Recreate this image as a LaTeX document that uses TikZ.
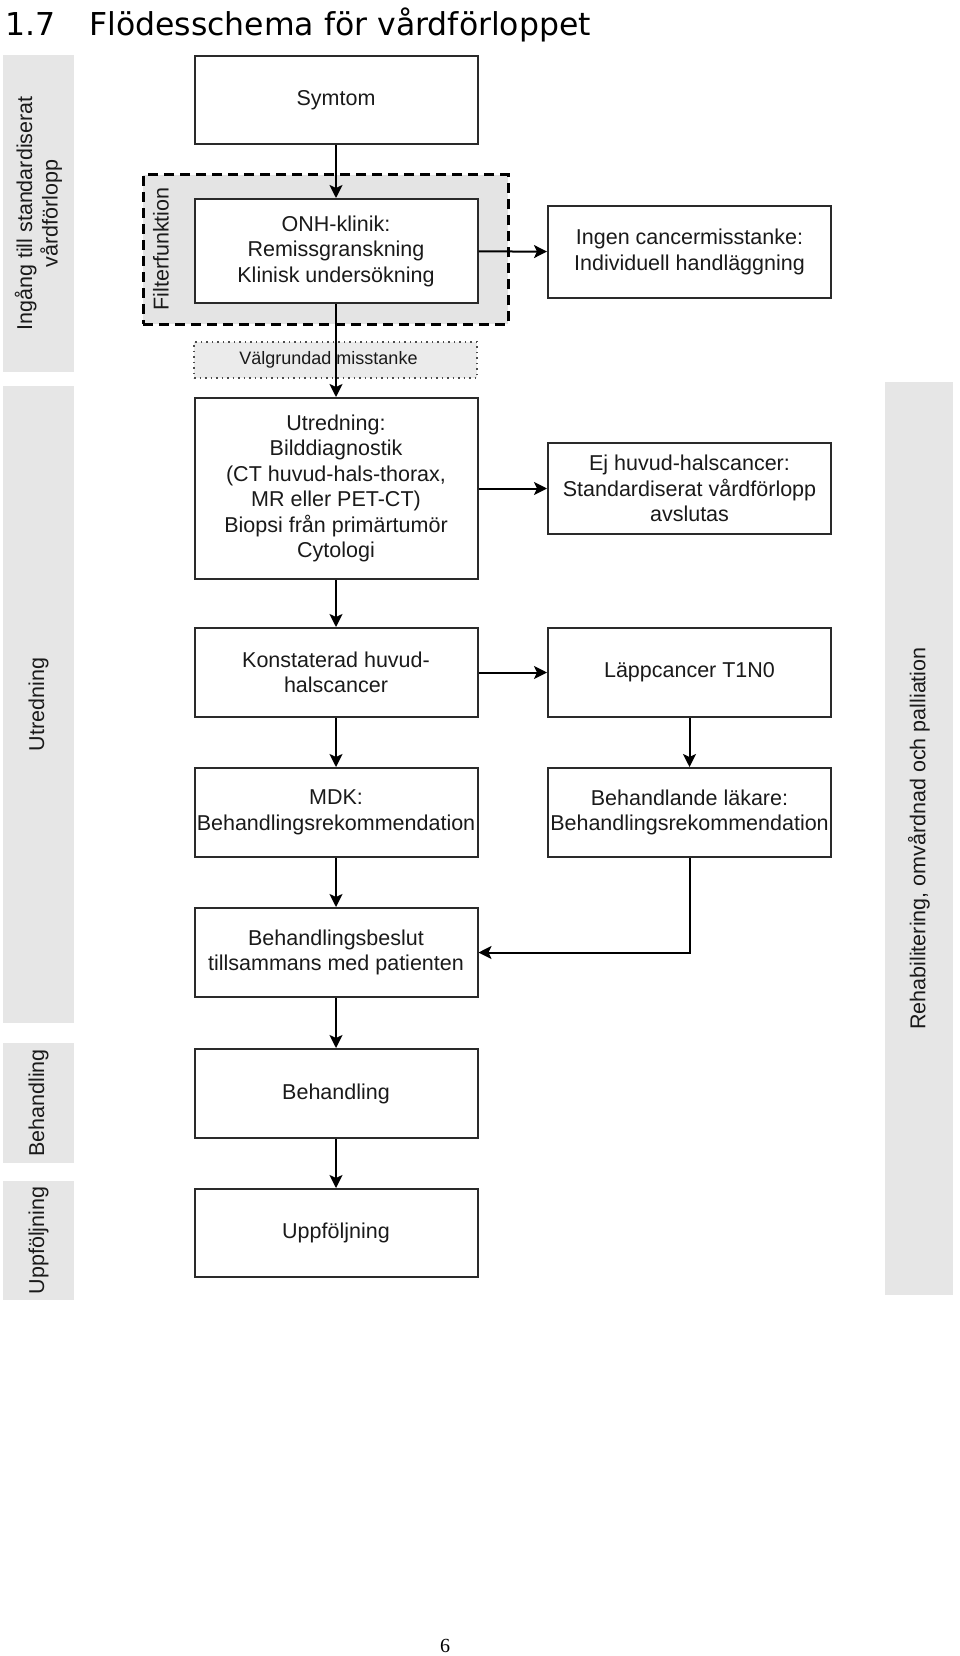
\documentclass[tikz,border=0pt]{standalone}
\usepackage{fontspec}
\setmainfont{Liberation Sans}
\newfontfamily\titlefont{DejaVu Sans}
\newfontfamily\pagefont{Liberation Serif}
\usetikzlibrary{arrows.meta}
\definecolor{lanegray}{HTML}{E6E6E6}
\definecolor{filtergray}{HTML}{E4E4E4}
\definecolor{suspgray}{HTML}{EBEBEB}
\definecolor{boxline}{HTML}{2A2A2A}
\definecolor{txt}{HTML}{1A1A1A}
\begin{document}
\begin{tikzpicture}[x=1pt,y=-1pt,
  boxfont/.style={font=\fontsize{21.5pt}{25.5pt}\selectfont},
  flowbox/.style={boxfont, draw=boxline, line width=2pt, fill=white,
    minimum width=283pt, inner sep=0pt, align=center, text=txt},
  lane/.style={boxfont, fill=lanegray, draw=none, inner sep=0pt,
    rotate=90, align=center, text=txt},
  filterbox/.style={draw=black, fill=filtergray, line width=3pt,
    dash pattern=on 10pt off 6pt, inner sep=0pt},
  suspbox/.style={draw=black!70, fill=suspgray, line width=1.5pt,
    dash pattern=on 1.5pt off 4pt, inner sep=0pt, text=txt,
    font=\fontsize{18pt}{21pt}\selectfont},
  conn/.style={draw=black, line width=2pt,
    -{Stealth[length=13pt,width=13pt,inset=3pt]}}
]
\useasboundingbox (0,0) rectangle (960,1656);

% title and page number
\node[anchor=base west, inner sep=0pt, font=\titlefont\fontsize{31.5pt}{36pt}\selectfont] (num) at (5,36) {1.7};
\node[anchor=base west, inner sep=0pt, font=\titlefont\fontsize{31.5pt}{36pt}\selectfont] (title) at (89,36) {Flödesschema för vårdförloppet};
\node[anchor=base, inner sep=0pt, font=\pagefont\fontsize{20pt}{24pt}\selectfont] (page) at (445,1652) {6};

% lanes
\node[lane, minimum width=317pt, minimum height=71pt] (l1) at (38.5,213.5) {Ingång till standardiserat\\vårdförlopp};
\node[lane, minimum width=637pt, minimum height=71pt] (l2) at (38.5,704.5) {Utredning};
\node[lane, minimum width=120pt, minimum height=71pt] (l3) at (38.5,1103) {Behandling};
\node[lane, minimum width=119pt, minimum height=71pt] (l4) at (38.5,1240.5) {Uppföljning};
\node[lane, minimum width=913pt, minimum height=68pt] (r1) at (919,838.5) {Rehabilitering, omvårdnad och palliation};

% filter function area
\node[filterbox, minimum width=365pt, minimum height=149pt] (filter) at (325.5,249.5) {};
\node[boxfont, rotate=90, inner sep=0pt, text=txt] (filtertext) at (161,249) {Filterfunktion};

% boxes
\node[flowbox, minimum height=88pt] (symtom) at (336,100) {Symtom};
\node[flowbox, minimum height=104pt] (onh) at (336,251) {ONH-klinik:\\Remissgranskning\\Klinisk undersökning};
\node[flowbox, minimum height=92pt] (ingen) at (689.5,252) {Ingen cancermisstanke:\\Individuell handläggning};
\node[suspbox, minimum width=283pt, minimum height=36pt] (susp) at (335.5,360) {\hspace*{-14pt}Välgrundad misstanke};
\node[flowbox, minimum height=181pt] (utr) at (336,488.5) {Utredning:\\Bilddiagnostik\\(CT huvud-hals-thorax,\\MR eller PET-CT)\\Biopsi från primärtumör\\Cytologi};
\node[flowbox, minimum height=91pt] (ej) at (689.5,488.5) {Ej huvud-halscancer:\\Standardiserat vårdförlopp\\avslutas};
\node[flowbox, minimum height=89pt] (konst) at (336,672.5) {Konstaterad huvud-\\halscancer};
\node[flowbox, minimum height=89pt] (lapp) at (689.5,672.5) {Läppcancer T1N0};
\node[flowbox, minimum height=89pt] (mdk) at (336,812.5) {MDK:\\Behandlingsrekommendation};
\node[flowbox, minimum height=89pt] (bl) at (689.5,812.5) {Behandlande läkare:\\Behandlingsrekommendation};
\node[flowbox, minimum height=89pt] (beslut) at (336,952.5) {Behandlingsbeslut\\tillsammans med patienten};
\node[flowbox, minimum height=89pt] (beh) at (336,1093.5) {Behandling};
\node[flowbox, minimum height=88pt] (upp) at (336,1233) {Uppföljning};

% connectors
\draw[conn] (symtom) -- (onh);
\draw[conn] (onh) -- (utr);
\draw[conn] (onh) -- (ingen);
\draw[conn] (utr) -- (ej);
\draw[conn] (utr) -- (konst);
\draw[conn] (konst) -- (lapp);
\draw[conn] (konst) -- (mdk);
\draw[conn] (lapp) -- (bl);
\draw[conn] (mdk) -- (beslut);
\draw[conn] (bl.south) |- (beslut.east);
\draw[conn] (beslut) -- (beh);
\draw[conn] (beh) -- (upp);
\end{tikzpicture}
\end{document}
